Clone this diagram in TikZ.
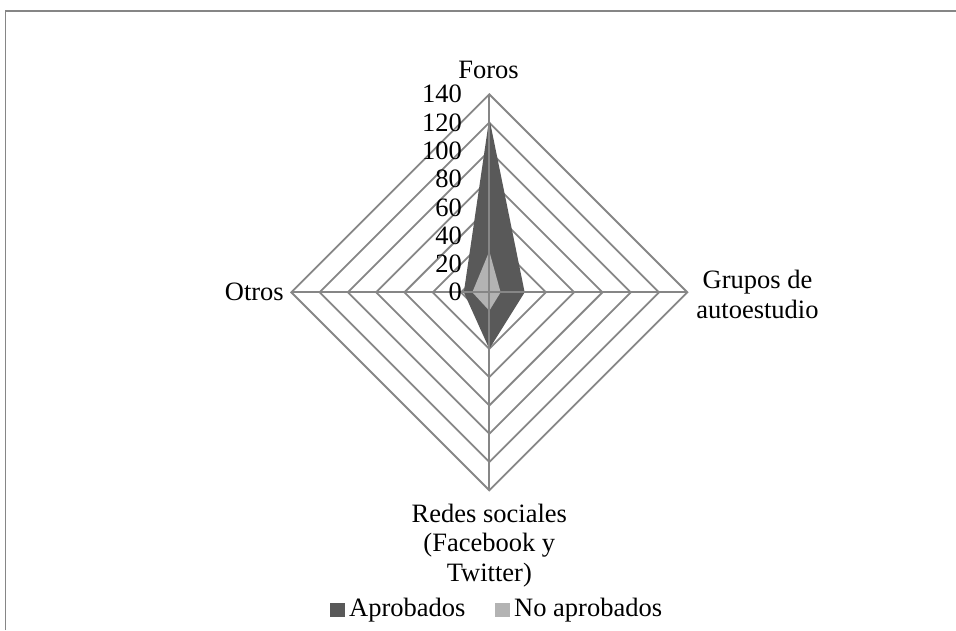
\documentclass[tikz,border=0pt]{standalone}
\usepackage{fontspec}
\setmainfont{Liberation Serif}
\definecolor{gridc}{RGB}{134,134,134}
\definecolor{aprob}{RGB}{89,89,89}
\definecolor{noaprob}{RGB}{179,179,179}
\begin{document}
\begin{tikzpicture}[x=1pt,y=-1pt,
  gridline/.style={draw=gridc,line width=1.8pt},
  lab/.style={inner sep=0pt,font=\fontsize{26.5}{29.5}\selectfont},
  tick/.style={lab,anchor=east},
]
\useasboundingbox (0,0) rectangle (956,630);
\def\cx{489.3}\def\cy{292.3}\def\s{1.4143}
\coordinate (C) at (\cx,\cy);
% frame
\draw[draw=gridc,line width=1.4pt] (5.5,630) -- (5.5,11) -- (956,11);
% rings
\foreach \k in {1,...,7}{
  \pgfmathsetmacro{\r}{20*\k*\s}
  \draw[gridline] (\cx,\cy-\r) -- (\cx+\r,\cy) -- (\cx,\cy+\r) -- (\cx-\r,\cy) -- cycle;
}
% series
\fill[aprob] (\cx,\cy-123*\s) -- (\cx+25*\s,\cy) -- (\cx,\cy+40*\s) -- (\cx-18*\s,\cy) -- cycle;
\fill[noaprob] (\cx,\cy-29*\s) -- (\cx+8*\s,\cy) -- (\cx,\cy+13*\s) -- (\cx-12*\s,\cy) -- cycle;
% spokes
\coordinate (T) at (\cx,\cy-140*\s);
\coordinate (R) at (\cx+140*\s,\cy);
\coordinate (B) at (\cx,\cy+140*\s);
\coordinate (L) at (\cx-140*\s,\cy);
\draw[gridline] (C) -- (T);
\draw[gridline] (C) -- (R);
\draw[gridline] (C) -- (B);
\draw[gridline] (C) -- (L);
% ticks
\foreach \v in {0,20,...,140}{
  \node[tick] (t\v) at (462,\cy-\v*\s) {\v};
}
% category labels
\node[lab,anchor=base] (foros) at (488.5,78.5) {Foros};
\node[lab,anchor=north,align=center] (grupos) at (757.5,270) {Grupos de\\autoestudio};
\node[lab,anchor=north,align=center] (redes) at (489.3,503.5) {Redes sociales\\(Facebook y\\Twitter)};
\node[lab,anchor=east] (otros) at (284,292.3) {Otros};
% legend
\fill[aprob] (330,603) rectangle (345,617);
\node[lab,anchor=base west] (la) at (349,616.7) {Aprobados};
\fill[noaprob] (495,603) rectangle (510,617);
\node[lab,anchor=base west] (lna) at (514,616.7) {No aprobados};
\end{tikzpicture}
\end{document}
